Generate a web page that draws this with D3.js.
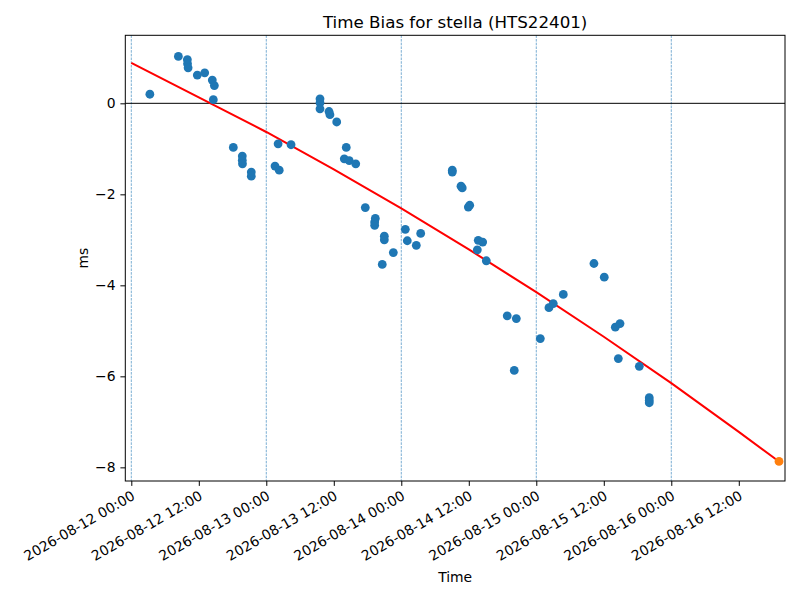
<!DOCTYPE html>
<html>
<head>
<meta charset="utf-8">
<script src="https://cdn.jsdelivr.net/npm/d3@7"></script>
<style>
  body { margin: 0; background: #fff; }
  svg { font-family: "DejaVu Sans", sans-serif; }
</style>
</head>
<body>
<svg></svg>
<script>
const times = [
  "2026-08-12 03:18", "2026-08-12 08:22", "2026-08-12 09:58", "2026-08-12 10:00", "2026-08-12 10:06",
  "2026-08-12 11:44", "2026-08-12 13:03", "2026-08-12 14:24", "2026-08-12 14:46", "2026-08-12 14:35",
  "2026-08-12 18:08", "2026-08-12 19:44", "2026-08-12 19:44", "2026-08-12 19:46", "2026-08-12 21:20",
  "2026-08-12 21:20", "2026-08-13 01:33", "2026-08-13 02:18", "2026-08-13 02:06", "2026-08-13 04:24",
  "2026-08-13 09:33", "2026-08-13 09:33", "2026-08-13 09:33", "2026-08-13 11:09", "2026-08-13 11:19",
  "2026-08-13 12:31", "2026-08-13 14:13", "2026-08-13 13:52", "2026-08-13 14:45", "2026-08-13 15:54",
  "2026-08-13 17:36", "2026-08-13 19:23", "2026-08-13 19:16", "2026-08-13 19:16", "2026-08-13 20:59",
  "2026-08-13 20:59", "2026-08-13 22:35", "2026-08-13 20:37", "2026-08-14 00:43", "2026-08-14 01:04",
  "2026-08-14 02:40", "2026-08-14 03:27", "2026-08-14 09:04", "2026-08-14 09:04", "2026-08-14 10:37",
  "2026-08-14 10:50", "2026-08-14 11:55", "2026-08-14 12:10", "2026-08-14 13:41", "2026-08-14 14:28",
  "2026-08-14 13:31", "2026-08-14 15:07", "2026-08-14 18:50", "2026-08-14 20:27", "2026-08-14 20:05",
  "2026-08-15 00:43", "2026-08-15 02:15", "2026-08-15 03:01", "2026-08-15 04:48", "2026-08-15 10:15",
  "2026-08-15 12:05", "2026-08-15 14:03", "2026-08-15 14:53", "2026-08-15 14:35", "2026-08-15 18:19",
  "2026-08-15 20:05", "2026-08-15 20:05", "2026-08-15 20:05"
];
const bias = [
  0.20, 1.03, 0.96, 0.87, 0.78,
  0.62, 0.67, 0.51, 0.39, 0.08,
  -0.97, -1.16, -1.25, -1.33, -1.51,
  -1.60, -1.38, -1.47, -0.89, -0.91,
  0.10, 0.01, -0.12, -0.18, -0.25,
  -0.41, -0.97, -1.22, -1.26, -1.33,
  -2.29, -2.53, -2.61, -2.68, -2.92,
  -3.00, -3.28, -3.54, -2.77, -3.02,
  -3.12, -2.86, -1.47, -1.51, -1.82,
  -1.86, -2.28, -2.24, -3.01, -3.05,
  -3.22, -3.46, -4.67, -4.73, -5.87,
  -5.17, -4.49, -4.40, -4.20, -3.52,
  -3.82, -4.92, -4.84, -5.61, -5.78,
  -6.47, -6.53, -6.58
];

// courbe d'ajustement (rouge)
const fitTimes = [
  "2026-08-12 00:00", "2026-08-12 12:00", "2026-08-13 00:00", "2026-08-13 12:00",
  "2026-08-14 00:00", "2026-08-14 12:00", "2026-08-15 00:00", "2026-08-15 12:00",
  "2026-08-16 00:00", "2026-08-16 12:00", "2026-08-16 19:09"
];
const fitValues = [0.89, 0.13, -0.63, -1.45, -2.31, -3.21, -4.15, -5.13, -6.15, -7.22, -7.87];

// prédiction (orange)
const predTime = "2026-08-16 19:09";
const predValue = -7.87;

const midnights = ["2026-08-12 00:00", "2026-08-13 00:00", "2026-08-14 00:00", "2026-08-15 00:00", "2026-08-16 00:00"];
const yTicks = [0, -2, -4, -6, -8];
const xDomain = ["2026-08-11 22:56", "2026-08-16 20:13"];
const yDomain = [-8.30, 1.495];

const parse = d3.utcParse("%Y-%m-%d %H:%M");
const fmt = d3.utcFormat("%Y-%m-%d %H:%M");

const width = 800;
const height = 600;
const margin = { top: 35.3, right: 15, bottom: 119, left: 125.3 };
const police = "DejaVu Sans";

const svg = d3.select("svg").attr("width", width).attr("height", height);

const x = d3.scaleUtc()
    .domain(xDomain.map(parse))
    .range([margin.left, width - margin.right]);
const y = d3.scaleLinear()
    .domain(yDomain)
    .range([height - margin.bottom, margin.top]);

const plot = svg.append("g");

// lignes verticales a minuit
plot.selectAll("line.mid")
    .data(midnights)
    .join("line")
    .attr("class", "mid")
    .attr("x1", d => x(parse(d))).attr("x2", d => x(parse(d)))
    .attr("y1", margin.top).attr("y2", height - margin.bottom)
    .attr("stroke", "#1f77b4")
    .attr("stroke-opacity", 0.85)
    .attr("stroke-width", 0.7)
    .attr("stroke-dasharray", "2.6,1.1");

// ligne zero
plot.append("line")
    .attr("x1", margin.left).attr("x2", width - margin.right)
    .attr("y1", y(0)).attr("y2", y(0))
    .attr("stroke", "black")
    .attr("stroke-width", 1);

// ajustement
const line = d3.line()
    .x((d, i) => x(parse(fitTimes[i])))
    .y(d => y(d));
plot.append("path")
    .attr("d", line(fitValues))
    .attr("fill", "none")
    .attr("stroke", "red")
    .attr("stroke-width", 2);

// points
plot.selectAll("circle.pt")
    .data(bias)
    .join("circle")
    .attr("class", "pt")
    .attr("cx", (d, i) => x(parse(times[i])))
    .attr("cy", d => y(d))
    .attr("r", 4.4)
    .attr("fill", "#1f77b4");

plot.append("circle")
    .attr("cx", x(parse(predTime)))
    .attr("cy", y(predValue))
    .attr("r", 4.4)
    .attr("fill", "#ff7f0e");

// axes
const xTicks = d3.range(0, 10).map(k => new Date(Date.UTC(2026, 7, 12, 12 * k)));
const xAxis = svg.append("g")
    .attr("transform", `translate(0,${height - margin.bottom})`)
    .call(d3.axisBottom(x).tickValues(xTicks).tickFormat(fmt).tickSize(4.9).tickPadding(4.9))
    .attr("font-family", police)
    .attr("font-size", 13.9);
xAxis.selectAll("text")
    .attr("fill", "black")
    .attr("text-anchor", "end")
    .attr("transform", "translate(-6,0) rotate(-30)")
    .attr("dy", "0.76em")
    .attr("y", 9.8);

const yAxis = svg.append("g")
    .attr("transform", `translate(${margin.left},0)`)
    .call(d3.axisLeft(y).tickValues(yTicks).tickFormat(d => d < 0 ? "\u2212" + Math.abs(d) : d).tickSize(4.9).tickPadding(4.9))
    .attr("font-family", police)
    .attr("font-size", 13.9);
yAxis.selectAll("text").attr("fill", "black");

svg.selectAll(".domain").remove();
svg.selectAll(".tick line").attr("stroke", "black").attr("stroke-width", 1);

// cadre
svg.append("rect")
    .attr("x", margin.left).attr("y", margin.top)
    .attr("width", width - margin.right - margin.left)
    .attr("height", height - margin.bottom - margin.top)
    .attr("fill", "none")
    .attr("stroke", "black")
    .attr("stroke-width", 1);

// textes
svg.append("text")
    .attr("x", (margin.left + width - margin.right) / 2).attr("y", 28)
    .attr("text-anchor", "middle")
    .attr("font-size", "16.7px")
    .text("Time Bias for stella (HTS22401)");

svg.append("text")
    .attr("x", (margin.left + width - margin.right) / 2).attr("y", 582)
    .attr("text-anchor", "middle")
    .attr("font-size", "13.9px")
    .text("Time");

svg.append("text")
    .attr("transform", `translate(88,${(margin.top + height - margin.bottom) / 2}) rotate(-90)`)
    .attr("text-anchor", "middle")
    .attr("font-size", "13.9px")
    .text("ms");
</script>
</body>
</html>
